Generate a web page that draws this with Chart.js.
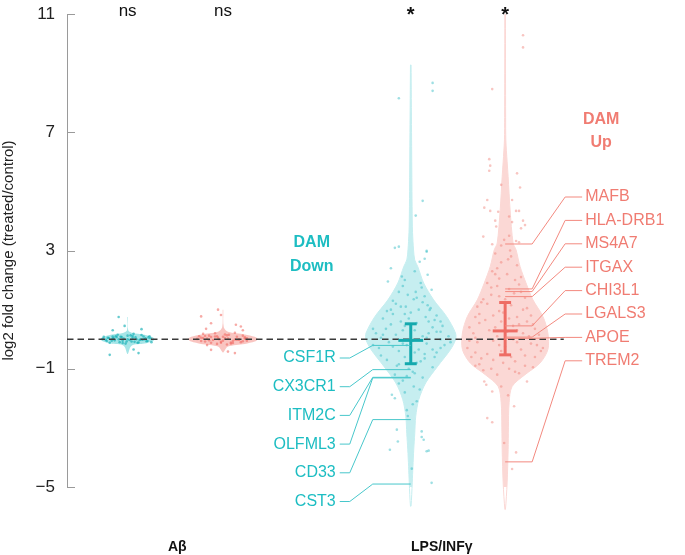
<!DOCTYPE html>
<html>
<head>
<meta charset="utf-8">
<script src="https://cdn.jsdelivr.net/npm/chart.js@4/dist/chart.umd.min.js"></script>
<style>
  html, body { margin: 0; padding: 0; background: #fff; }
</style>
</head>
<body>
<canvas id="violin-chart" width="685" height="555"></canvas>
<script>
// groups and sub-series
const groups = ['Aβ', 'LPS/INFγ'];
const series = ['Aβ down', 'Aβ up', 'LPS/INFγ down', 'LPS/INFγ up'];
const signif = ['ns', 'ns', '*', '*'];

// violin outlines: level (log2 FC) and density half-width
const abDownLevels = [0.75, 0.3, 0.22, 0.15, 0.07, 0, -0.07, -0.15, -0.22, -0.5];
const abDownWidth  = [0.003, 0.006, 0.04, 0.17, 0.25, 0.27, 0.25, 0.17, 0.04, 0.003];
const abUpLevels = [1.0, 0.4, 0.25, 0.16, 0.08, 0, -0.08, -0.16, -0.25, -0.45];
const abUpWidth  = [0.003, 0.008, 0.05, 0.22, 0.32, 0.35, 0.32, 0.22, 0.05, 0.003];
const lpsDownLevels = [9.28, 7.0, 5.0, 4.0, 3.6, 3.02, 2.68, 2.46, 1.9, 1.33, 0.77, 0.21, -0.02, -0.35, -0.92, -1.48, -2.05, -2.61, -3.2, -3.74, -4.3, -4.86, -5.65];
const lpsDownWidth  = [0.003, 0.008, 0.012, 0.015, 0.018, 0.028, 0.04, 0.07, 0.13, 0.23, 0.36, 0.45, 0.45, 0.40, 0.27, 0.15, 0.08, 0.05, 0.04, 0.03, 0.022, 0.015, 0.003];
const lpsUpLevels = [11.0, 9.0, 7.5, 6.74, 6.0, 5.5, 4.37, 3.25, 3.02, 2.46, 1.9, 1.33, 0.77, 0.21, -0.35, -0.81, -1.2, -1.6, -2.15, -3.0, -3.74, -4.86, -5.76];
const lpsUpWidth  = [0.003, 0.004, 0.005, 0.007, 0.02, 0.03, 0.05, 0.08, 0.11, 0.15, 0.21, 0.28, 0.38, 0.43, 0.43, 0.35, 0.20, 0.07, 0.04, 0.033, 0.03, 0.02, 0.003];

// gene points (log2 FC) and their jitter
const abDownVals = [0.05, -0.05, 0.1, -0.1, 0.02, 0.12, -0.08, 0.06, -0.03, 0.09, -0.06, -0.12, 0.15, -0.15, 0.18, 0.14, 0.03, 0.1, -0.02, 0.03, 0.07, -0.03, -0.12, 0.08, -0.1, 0.0, -0.05, 0.05, 0.0, 0.0, 0.75, -0.53, -0.47, 0.34, 0.3, -0.35, 0.45,
  0.04, -0.04, 0.08, -0.08, 0.11, -0.11, 0.0, 0.06, -0.06, 0.02, -0.02, 0.13, -0.13, 0.09, -0.09, 0.03, -0.07, 0.07, 0.01, -0.01];
const abDownJitter = [-0.20, -0.16, -0.12, -0.08, -0.04, 0.00, 0.04, 0.08, 0.12, 0.16, 0.20, -0.18, -0.10, -0.02, 0.06, 0.14, 0.18, 0.22, -0.22, -0.14, -0.06, 0.02, 0.10, -0.24, 0.24, 0.00, -0.05, 0.05, -0.09, 0.09, -0.09, -0.18, 0.11, 0.14, -0.15, 0.06, -0.03,
  -0.19, -0.13, -0.07, -0.01, 0.05, 0.11, 0.17, 0.21, -0.21, -0.15, 0.15, 0.03, -0.05, -0.15, 0.07, 0.23, 0.19, -0.11, -0.25, 0.13];
const abUpVals = [0.05, -0.08, 0.12, -0.03, 0.1, -0.12, 0.04, 0.15, -0.06, 0.08, -0.1, 0.02, 0.18, 0.2, -0.18, 0.22, 0.12, -0.2, -0.15, 0.0, 0.08, -0.02, -0.12, -0.05, 0.1, -0.05, 0.02, 0.05, 0.77, 0.54, 0.49, 0.43, 1.0, 0.82, -0.42, -0.47, -0.36, 0.35, 0.3,
  0.04, -0.04, 0.09, -0.09, 0.13, -0.13, 0.0, 0.06, -0.06, 0.02, -0.02, 0.16, -0.16, 0.11, -0.11, 0.03, -0.07, 0.07, 0.01, -0.01];
const abUpJitter = [-0.22, -0.18, -0.14, -0.10, -0.06, -0.02, 0.02, 0.06, 0.10, 0.14, 0.18, 0.22, -0.20, -0.08, 0.04, 0.12, 0.20, -0.16, 0.08, -0.04, 0.00, 0.16, -0.12, 0.24, -0.24, 0.00, 0.05, -0.05, -0.22, -0.12, 0.13, 0.18, -0.05, -0.02, 0.05, 0.12, -0.12, -0.17, 0.20,
  -0.20, -0.14, -0.08, -0.02, 0.04, 0.10, 0.16, 0.22, -0.22, -0.16, 0.14, 0.02, -0.06, -0.18, 0.08, 0.24, 0.20, -0.12, -0.26, 0.12];
const lpsDownVals = [8.67, 8.40, 8.15, 4.68, 4.18, 3.09, 3.13, 2.99, 2.72, 2.40, 1.95, 2.12, 2.62, 2.96, 2.18, 1.67, 0.99, -1.88, -2.0, -3.06, -3.46, -3.74, -3.12, -3.40, -3.79, -3.77, -4.38, -4.86, -3.31,
  1.8, 1.6, 1.9, 1.5, 1.45, 1.2, 1.1, 1.35, 1.25, 1.05, 1.0, 1.0, 0.7, 0.85, 0.6, 0.9, 0.55, 0.75, 0.65, 0.6, 0.7,
  0.2, 0.35, 0.15, 0.45, 0.3, 0.1, 0.4, 0.25, 0.1, 0.05, 0.2, -0.3, -0.1, -0.4, -0.2, -0.35, -0.15, -0.45, -0.2, -0.25, -0.05,
  -0.7, -0.9, -0.6, -0.8, -0.65, -0.95, -1.0, -1.2, -1.4, -1.15, -1.3, -1.5, -1.8, -2.1, -2.4, -1.7,
  2.3, 2.0, 1.75, 1.6, 1.4, 1.3, 1.15, 0.95, 0.8, 0.5, 0.45, 0.35, 0.25, 0.15, 0.05, -0.1, -0.2, -0.3, -0.45, -0.55,
  -0.6, -0.75, -0.85, -1.1, -1.25, -1.6, -2.2, -2.6, 1.1, 0.6, 0.3, -0.15, -0.5, 0.0, 0.85, -0.35];
const lpsDownJitter = [0.22, 0.22, -0.12, 0.12, 0.05, -0.16, -0.12, 0.16, 0.14, -0.20, -0.23, -0.09, 0.09, 0.16, 0.17, 0.21, 0.19, -0.19, -0.16, -0.14, -0.13, -0.21, 0.11, 0.13, 0.16, 0.18, 0.01, 0.21, 0.11,
  -0.08, 0.05, 0.10, -0.03, 0.14, -0.15, -0.05, 0.03, 0.12, 0.20, -0.20, 0.08, -0.28, -0.18, -0.10, 0.00, 0.06, 0.15, 0.24, 0.30, -0.02,
  -0.35, -0.25, -0.15, -0.06, 0.04, 0.12, 0.22, 0.30, 0.38, -0.30, 0.18, -0.32, -0.22, -0.12, -0.04, 0.08, 0.16, 0.26, 0.34, -0.18, 0.02,
  -0.24, -0.14, -0.06, 0.06, 0.14, 0.22, -0.02, -0.16, -0.08, 0.04, 0.12, -0.12, -0.06, 0.06, -0.04, 0.09,
  0.04, -0.06, 0.11, -0.12, 0.06, -0.18, 0.17, -0.24, 0.26, -0.20, 0.32, -0.38, 0.26, -0.28, 0.16, 0.40, -0.38, 0.30, 0.04, -0.30,
  0.24, 0.10, -0.12, 0.02, -0.04, 0.03, 0.02, -0.03, -0.10, 0.18, -0.08, -0.08, 0.14, 0.30, -0.06, 0.22];
const lpsUpVals = [10.28, 9.87, 8.46, 6.09, 5.87, 5.70, 5.61, 5.22, 5.13, 4.71, 4.71, 4.45, 4.34, 4.31, 4.34, 4.34, 4.15, 4.01, 4.01, 3.96, 3.81, 3.86, 3.75, 3.47, 3.50, 3.36, 3.32, 3.28, 3.21, 3.17,
  -1.43, -1.77, -1.43, -1.54, -2.27, -2.67, -2.81, -3.51, -3.83, -4.39,
  2.9, 2.8, 2.6, 2.5, 2.3, 2.2, 2.1, 2.05, 1.9, 1.8, 1.7, 1.85, 1.5, 1.4, 1.35, 1.35, 1.55,
  1.1, 1.2, 0.95, 1.15, 1.0, 0.8, 0.75, 0.75, 0.8, 0.4, 0.55, 0.3, 0.6, 0.45, 0.2, 0.5, 0.15, 0.1, 0.05, 0.25, 0.6,
  -0.3, -0.1, -0.5, -0.2, -0.6, -0.35, -0.15, -0.4, -0.05, -0.1, -0.65, -0.6, -0.85, -1.0, -0.8, -1.1, -0.9, -1.2, -1.0, -1.6, -1.9,
  2.7, 2.4, 2.0, 1.75, 1.6, 1.25, 1.05, 0.9, 0.65, 0.5, 0.35, 0.2, 0.1, -0.05, -0.2, -0.25, -0.45, -0.55, -0.7, -0.75,
  -0.95, -1.05, -1.15, -0.3, 0.85, 1.45, 0.0, -0.4, 0.4, 0.7, 2.2, 3.0, -0.9, -0.6, 0.3];
const lpsUpJitter = [0.18, 0.18, -0.13, -0.16, -0.15, -0.16, 0.12, -0.04, 0.15, -0.18, 0.07, -0.21, -0.15, -0.07, 0.11, 0.14, 0.04, -0.10, 0.18, 0.07, -0.09, 0.20, 0.16, -0.22, 0.04, -0.01, 0.11, 0.14, -0.13, -0.04,
  -0.21, -0.13, 0.22, -0.19, 0.09, -0.18, -0.13, -0.01, 0.11, 0.07,
  -0.10, 0.06, -0.04, 0.12, -0.13, 0.02, 0.16, -0.06, -0.18, -0.08, 0.04, 0.14, -0.14, 0.20, 0.00, -0.22, 0.09,
  -0.28, -0.18, -0.06, 0.06, 0.18, 0.26, -0.30, 0.12, -0.12, -0.36, -0.26, -0.16, -0.04, 0.08, 0.18, 0.28, 0.34, -0.08, -0.30, 0.02, 0.22,
  -0.38, -0.28, -0.18, -0.06, 0.06, 0.16, 0.26, 0.36, -0.12, 0.12, -0.24, 0.30, -0.26, -0.14, -0.02, 0.10, 0.20, -0.08, 0.04, -0.04, 0.03,
  0.03, -0.08, 0.10, -0.14, 0.16, -0.24, 0.22, -0.02, -0.20, 0.14, 0.30, -0.32, 0.24, -0.36, 0.32, 0.00, -0.30, 0.20, -0.12, 0.10,
  0.28, -0.22, 0.14, 0.38, -0.26, -0.06, 0.08, -0.04, -0.10, 0.04, -0.10, 0.05, -0.30, -0.34, 0.12];

// mean and interval for LPS/INFγ violins
const barLow  = [-0.83, -0.53];
const barMean = [-0.04, 0.28];
const barHigh = [0.52, 1.24];

// highlighted DAM genes
const downGenes = ['CSF1R', 'CX3CR1', 'ITM2C', 'OLFML3', 'CD33', 'CST3'];
const downFC    = [-0.21, -1.03, -1.29, -1.31, -2.72, -4.9];
const upGenes = ['MAFB', 'HLA-DRB1', 'MS4A7', 'ITGAX', 'CHI3L1', 'LGALS3', 'APOE', 'TREM2'];
const upFC    = [3.22, 1.70, 1.61, 1.44, 0.45, 0.07, 0.03, -4.15];

const yTicks = [-5, -1, 3, 7, 11];

// layout / style
const groupX = [0.61, 1.57, 3.46, 4.41];
const FONT = '"Liberation Sans", Arial, Helvetica, sans-serif';
const teal = '#1DBDC2', tealLine = '#48C7CB', tealBar = '#14A9AE';
const salmon = '#F07C72', salmonLine = '#F3897F', salmonBar = '#EE6D65';

function outline(cx, levels, widths) {
  const pts = [];
  for (let i = 0; i < levels.length; i++) pts.push({x: cx + widths[i], y: levels[i]});
  for (let i = levels.length - 1; i >= 0; i--) pts.push({x: cx - widths[i], y: levels[i]});
  return pts;
}
function violin(cx, levels, widths, color, edge) {
  return {data: outline(cx, levels, widths), showLine: true, fill: 'shape', backgroundColor: color,
    borderColor: edge || 'rgba(0,0,0,0)', borderWidth: edge ? 1 : 0, pointRadius: 0, tension: 0.3,
    clip: false, order: 5};
}
function cloud(cx, vals, jit, color) {
  return {data: vals.map((v, i) => ({x: cx + jit[i], y: v})), showLine: false,
    pointRadius: 1.3, pointBorderWidth: 0, backgroundColor: color, clip: false, order: 4};
}
function errorBar(cx, lo, mean, hi, color) {
  const seg = pts => ({data: pts, showLine: true, borderColor: color, borderWidth: 3,
    pointRadius: 0, order: 1, clip: false});
  return [
    seg([{x: cx, y: lo}, {x: cx, y: hi}]),
    seg([{x: cx - 0.06, y: hi}, {x: cx + 0.06, y: hi}]),
    seg([{x: cx - 0.06, y: lo}, {x: cx + 0.06, y: lo}]),
    seg([{x: cx - 0.125, y: mean}, {x: cx + 0.125, y: mean}])
  ];
}

const datasets = [
  violin(groupX[0], abDownLevels, abDownWidth, 'rgba(29,189,194,0.4)'),
  violin(groupX[1], abUpLevels, abUpWidth, 'rgba(240,110,100,0.4)'),
  violin(groupX[2], lpsDownLevels, lpsDownWidth, 'rgba(29,189,194,0.25)', '#C6EEF0'),
  violin(groupX[3], lpsUpLevels, lpsUpWidth, 'rgba(240,110,100,0.27)', '#FBD8D5'),
  cloud(groupX[0], abDownVals, abDownJitter, 'rgba(20,175,181,0.65)'),
  cloud(groupX[1], abUpVals, abUpJitter, 'rgba(240,100,92,0.55)'),
  cloud(groupX[2], lpsDownVals, lpsDownJitter, 'rgba(40,185,192,0.45)'),
  cloud(groupX[3], lpsUpVals, lpsUpJitter, 'rgba(238,110,100,0.4)'),
  {data: [{x: 0, y: 0}, {x: 5.0, y: 0}], showLine: true, borderColor: '#3a3a3a', borderWidth: 1.4,
    borderDash: [6.5, 4], pointRadius: 0, order: 2},
  ...errorBar(groupX[2], barLow[0], barMean[0], barHigh[0], tealBar),
  ...errorBar(groupX[3], barLow[1], barMean[1], barHigh[1], salmonBar)
];

const annotations = {
  id: 'annotations',
  afterDraw(chart) {
    const {ctx, chartArea: area, scales: {x, y}} = chart;
    const cx = groupX.map(g => x.getPixelForValue(g));
    ctx.save();

    // tick marks drawn inward
    ctx.strokeStyle = '#9a9a9a';
    ctx.lineWidth = 1;
    yTicks.forEach(t => {
      const py = Math.round(y.getPixelForValue(t)) + 0.5;
      ctx.beginPath(); ctx.moveTo(area.left, py); ctx.lineTo(area.left + 8, py); ctx.stroke();
    });

    // significance
    ctx.fillStyle = '#111';
    ctx.textAlign = 'center';
    ctx.textBaseline = 'alphabetic';
    signif.forEach((s, i) => {
      if (s === '*') { ctx.font = 'bold 20px ' + FONT; ctx.fillText(s, cx[i], 21); }
      else { ctx.font = '17px ' + FONT; ctx.fillText(s, cx[i], 16); }
    });

    // group labels
    ctx.font = 'bold 14px ' + FONT;
    ctx.textBaseline = 'middle';
    ctx.fillText(groups[0], (cx[0] + cx[1]) / 2 + 2, 547);
    ctx.fillText(groups[1], cx[2] + 31, 547);

    // DAM headings
    ctx.font = 'bold 16px ' + FONT;
    ctx.fillStyle = teal;
    ctx.fillText('DAM', cx[2] - 99, 243);
    ctx.fillText('Down', cx[2] - 99, 267);
    ctx.fillStyle = salmon;
    ctx.fillText('DAM', cx[3] + 96, 120);
    ctx.fillText('Up', cx[3] + 96, 143);

    // gene labels with leader lines
    ctx.font = '16px ' + FONT;
    ctx.lineWidth = 1;
    ctx.strokeStyle = tealLine;
    ctx.fillStyle = teal;
    ctx.textAlign = 'right';
    downGenes.forEach((g, i) => {
      const ly = 358 + i * 28.7;
      const ty = y.getPixelForValue(downFC[i]);
      const c = cx[2];
      ctx.beginPath();
      ctx.moveTo(c - 71, ly); ctx.lineTo(c - 61, ly); ctx.lineTo(c - 38, ty); ctx.lineTo(c, ty);
      ctx.stroke();
      ctx.fillText(g, c - 75, ly);
    });
    ctx.strokeStyle = salmonLine;
    ctx.fillStyle = salmon;
    ctx.textAlign = 'left';
    upGenes.forEach((g, i) => {
      const ly = 197 + i * 23.4;
      const ty = y.getPixelForValue(upFC[i]);
      const c = cx[3];
      ctx.beginPath();
      ctx.moveTo(c + 77, ly); ctx.lineTo(c + 60, ly); ctx.lineTo(c + 27, ty); ctx.lineTo(c, ty);
      ctx.stroke();
      ctx.fillText(g, c + 80, ly);
    });
    ctx.restore();
  }
};

new Chart(document.getElementById('violin-chart'), {
  type: 'scatter',
  data: {datasets: datasets},
  plugins: [annotations],
  options: {
    responsive: false,
    animation: false,
    layout: {padding: {top: 14, right: 0, bottom: 68, left: 0}},
    plugins: {legend: {display: false}, tooltip: {enabled: false}},
    scales: {
      x: {type: 'linear', display: false, min: 0, max: 6.18},
      y: {
        min: -5, max: 11,
        afterFit: scale => { scale.width = 67; scale.paddingTop = 0; scale.paddingBottom = 0; },
        afterBuildTicks: scale => { scale.ticks = yTicks.map(v => ({value: v})); },
        border: {color: '#9a9a9a', width: 1},
        grid: {drawOnChartArea: false, drawTicks: false},
        ticks: {
          padding: 12, color: '#222', font: {family: FONT, size: 17},
          callback: v => String(v).replace('-', '\u2212')
        },
        title: {display: true, text: 'log2 fold change (treated/control)', color: '#222',
          font: {family: FONT, size: 15}, padding: {top: 0, bottom: 0}}
      }
    }
  }
});
</script>
</body>
</html>
